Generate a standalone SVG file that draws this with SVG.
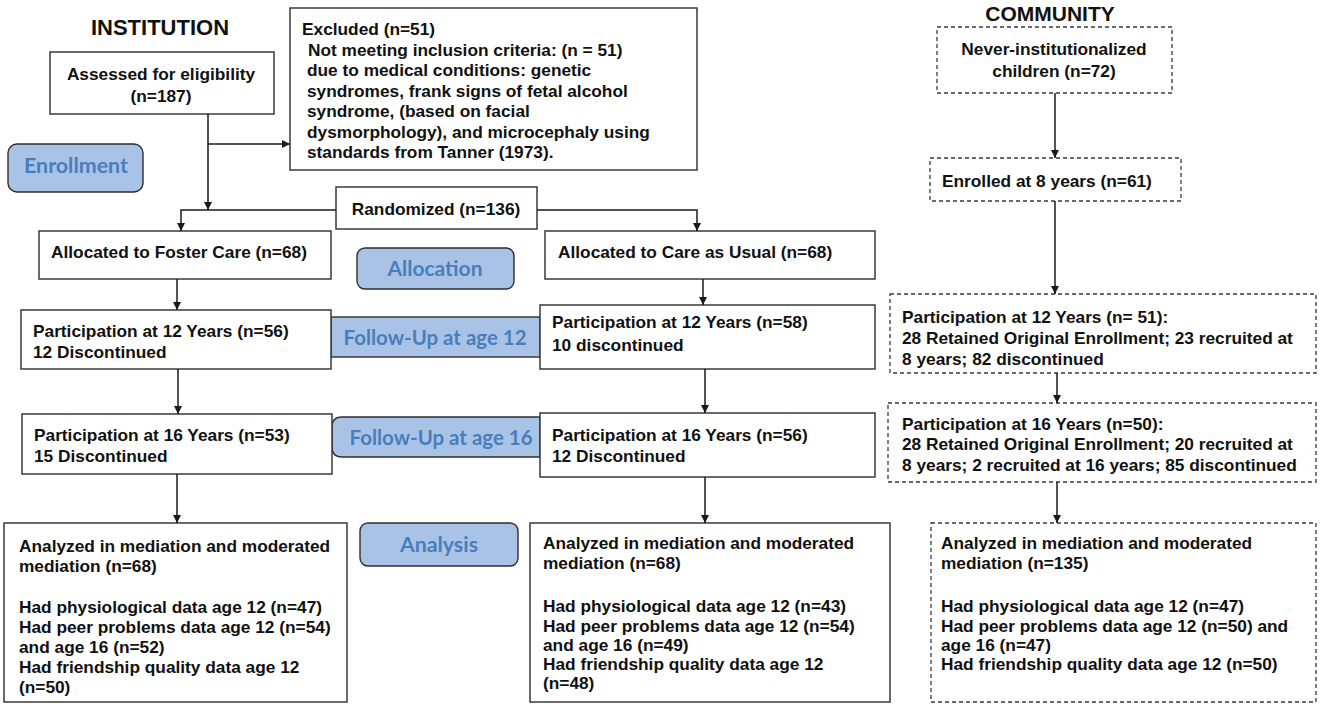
<svg xmlns="http://www.w3.org/2000/svg" width="1320" height="704" viewBox="0 0 1320 704">
<defs>
<marker id="ah" viewBox="0 0 10 10" refX="10" refY="5" markerWidth="8" markerHeight="8" markerUnits="userSpaceOnUse" orient="auto">
<path d="M0,0 L10,5 L0,10 z" fill="#1a1a1a"/>
</marker>
<style>
.box{fill:#fff;stroke:#3a3a3a;stroke-width:1.5}
.dbox{fill:#fff;stroke:#3a3a3a;stroke-width:1.3;stroke-dasharray:4 3}
.pill{fill:#a9c3e7;stroke:#2e2e2e;stroke-width:1.4}
.t{font-family:"Liberation Sans",Arial,sans-serif;font-weight:bold;font-size:17.3px;fill:#111}
.c{text-anchor:middle}
.title{font-family:"Liberation Sans",Arial,sans-serif;font-weight:bold;font-size:22px;fill:#111;text-anchor:middle}
.pt{font-family:Lato,"Open Sans",sans-serif;font-weight:bold;font-size:21px;fill:#4a7ebb;text-anchor:middle}
.con{fill:none;stroke:#1a1a1a;stroke-width:1.5;marker-end:url(#ah)}
</style>
</defs>
<rect width="1320" height="704" fill="#fff"/>

<text class="title" x="160" y="35">INSTITUTION</text>
<text class="title" x="1050" y="21" style="font-size:21px">COMMUNITY</text>

<g id="assessed">
<rect class="box" x="50" y="52" width="224" height="62"/>
<text class="t c" x="161" y="80">Assessed for eligibility</text>
<text class="t c" x="161" y="102">(n=187)</text>
</g>

<g id="excluded">
<rect class="box" x="290" y="8" width="407" height="162"/>
<text class="t" x="302" y="35">Excluded  (n=51)</text>
<text class="t" x="308" y="55.5"> Not meeting inclusion criteria: (n = 51)</text>
<text class="t" x="307" y="76">due to medical conditions: genetic</text>
<text class="t" x="307" y="96.5">syndromes, frank signs of fetal alcohol</text>
<text class="t" x="307" y="117">syndrome, (based on facial</text>
<text class="t" x="307" y="137.5">dysmorphology), and microcephaly using</text>
<text class="t" x="307" y="158">standards from Tanner (1973).</text>
</g>

<g id="never">
<rect class="dbox" x="937" y="27" width="235" height="66"/>
<text class="t c" x="1054" y="55">Never-institutionalized</text>
<text class="t c" x="1054" y="77">children (n=72)</text>
</g>

<g id="enrollment">
<rect class="pill" x="8" y="144" width="135" height="48" rx="9"/>
<text class="pt" x="76" y="173" textLength="104" lengthAdjust="spacingAndGlyphs">Enrollment</text>
</g>

<g id="enrolled8">
<rect class="dbox" x="930" y="158" width="251" height="43"/>
<text class="t" x="942" y="187">Enrolled at 8 years (n=61)</text>
</g>

<g id="randomized">
<rect class="box" x="336" y="187" width="201" height="42"/>
<text class="t c" x="436" y="215">Randomized (n=136)</text>
</g>

<g id="foster">
<rect class="box" x="39" y="231" width="292" height="48"/>
<text class="t" x="51" y="258">Allocated to Foster Care (n=68)</text>
</g>

<g id="allocation">
<rect class="pill" x="357" y="248" width="157" height="41" rx="8"/>
<text class="pt" x="435" y="276" textLength="95" lengthAdjust="spacingAndGlyphs">Allocation</text>
</g>

<g id="cau">
<rect class="box" x="545" y="231" width="330" height="48"/>
<text class="t" x="558" y="258">Allocated to Care as Usual (n=68)</text>
</g>

<g id="fu12">
<rect class="pill" x="331" y="317" width="209" height="40"/>
<text class="pt" x="435" y="345" textLength="183" lengthAdjust="spacingAndGlyphs">Follow-Up at age 12</text>
</g>

<g id="fu16">
<path class="pill" d="M540,417 H342 Q332,417 332,427 V447 Q332,457 342,457 H540 Z"/>
<text class="pt" x="441" y="445" textLength="183" lengthAdjust="spacingAndGlyphs">Follow-Up at age 16</text>
</g>

<g id="foster12">
<rect class="box" x="21" y="310" width="310" height="59"/>
<text class="t" x="33" y="337">Participation at 12 Years (n=56)</text>
<text class="t" x="33" y="358">12 Discontinued</text>
</g>

<g id="cau12">
<rect class="box" x="540" y="305" width="335" height="64"/>
<text class="t" x="552" y="328">Participation at 12 Years (n=58)</text>
<text class="t" x="552" y="351">10 discontinued</text>
</g>

<g id="comm12">
<rect class="dbox" x="890" y="294" width="426" height="79"/>
<text class="t" x="902" y="323">Participation at 12 Years (n= 51):</text>
<text class="t" x="902" y="344">28 Retained Original Enrollment; 23 recruited at</text>
<text class="t" x="902" y="365">8 years; 82 discontinued</text>
</g>

<g id="foster16">
<rect class="box" x="22" y="414" width="310" height="60"/>
<text class="t" x="34" y="441">Participation at 16 Years (n=53)</text>
<text class="t" x="34" y="462">15 Discontinued</text>
</g>

<g id="cau16">
<rect class="box" x="540" y="413" width="335" height="64"/>
<text class="t" x="552" y="441">Participation at 16 Years (n=56)</text>
<text class="t" x="552" y="462">12 Discontinued</text>
</g>

<g id="comm16">
<rect class="dbox" x="888" y="403" width="428" height="79"/>
<text class="t" x="902" y="430">Participation at 16 Years (n=50):</text>
<text class="t" x="902" y="450">28 Retained Original Enrollment; 20 recruited at</text>
<text class="t" x="902" y="471">8 years; 2 recruited at 16 years; 85 discontinued</text>
</g>

<g id="fosterAnalysis">
<rect class="box" x="4" y="523" width="343" height="179"/>
<text class="t" x="19" y="552">Analyzed in mediation and moderated</text>
<text class="t" x="19" y="572">mediation (n=68)</text>
<text class="t" x="19" y="613">Had physiological data age 12 (n=47)</text>
<text class="t" x="19" y="633">Had peer problems data age 12 (n=54)</text>
<text class="t" x="19" y="653">and age 16 (n=52)</text>
<text class="t" x="19" y="673">Had friendship quality data age 12</text>
<text class="t" x="19" y="693">(n=50)</text>
</g>

<g id="analysis">
<rect class="pill" x="360" y="523" width="158" height="43" rx="8"/>
<text class="pt" x="439" y="552" textLength="78" lengthAdjust="spacingAndGlyphs">Analysis</text>
</g>

<g id="cauAnalysis">
<rect class="box" x="530" y="523" width="360" height="179"/>
<text class="t" x="543" y="549">Analyzed in mediation and moderated</text>
<text class="t" x="543" y="569">mediation (n=68)</text>
<text class="t" x="543" y="612">Had physiological data age 12 (n=43)</text>
<text class="t" x="543" y="632">Had peer problems data age 12 (n=54)</text>
<text class="t" x="543" y="651">and age 16 (n=49)</text>
<text class="t" x="543" y="670">Had friendship quality data age 12</text>
<text class="t" x="543" y="689">(n=48)</text>
</g>

<g id="commAnalysis">
<rect class="dbox" x="931" y="523" width="385" height="179"/>
<text class="t" x="941" y="549">Analyzed in mediation and moderated</text>
<text class="t" x="941" y="569">mediation (n=135)</text>
<text class="t" x="941" y="612">Had physiological data age 12 (n=47)</text>
<text class="t" x="941" y="632">Had peer problems data age 12 (n=50) and</text>
<text class="t" x="941" y="651">age 16 (n=47)</text>
<text class="t" x="941" y="670">Had friendship quality data age 12 (n=50)</text>
</g>

<g id="connectors">
<path class="con" d="M208,114 V210"/>
<path class="con" d="M208,144 H290"/>
<path class="con" d="M336,210 H181 V231"/>
<path class="con" d="M537,210 H697 V231"/>
<path class="con" d="M177,279 V310"/>
<path class="con" d="M178,369 V414"/>
<path class="con" d="M177,474 V523"/>
<path class="con" d="M703,279 V305"/>
<path class="con" d="M705,369 V413"/>
<path class="con" d="M705,477 V523"/>
<path class="con" d="M1055,93 V158"/>
<path class="con" d="M1055,201 V294"/>
<path class="con" d="M1057,373 V403"/>
<path class="con" d="M1057,482 V523"/>
</g>
</svg>
